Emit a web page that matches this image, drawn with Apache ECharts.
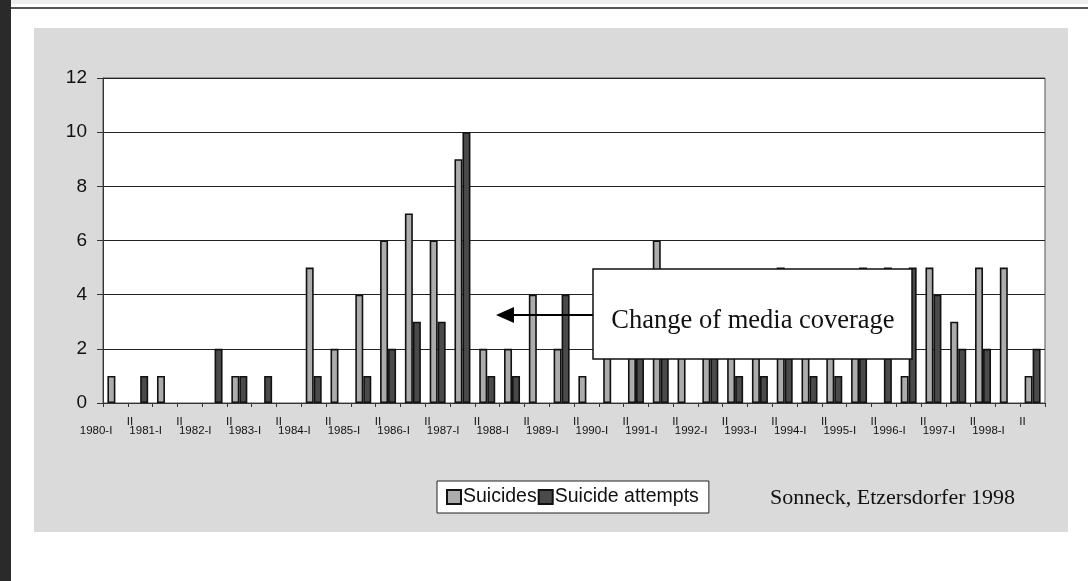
<!DOCTYPE html>
<html>
<head>
<meta charset="utf-8">
<script src="https://cdn.jsdelivr.net/npm/echarts@6/dist/echarts.min.js"></script>
<style>html,body{margin:0;padding:0;background:#fff}#c{width:1088px;height:581px}</style>
</head>
<body>
<div id="c"></div>
<script>
const categories = ['1980-I','1980-II','1981-I','1981-II','1982-I','1982-II','1983-I','1983-II','1984-I','1984-II','1985-I','1985-II','1986-I','1986-II','1987-I','1987-II','1988-I','1988-II','1989-I','1989-II','1990-I','1990-II','1991-I','1991-II','1992-I','1992-II','1993-I','1993-II','1994-I','1994-II','1995-I','1995-II','1996-I','1996-II','1997-I','1997-II','1998-I','1998-II'];
const suicides = [1,0,1,0,0,1,0,0,5,2,4,6,7,6,9,2,2,4,2,1,2,2,6,2,3,3,2,5,4,2,3,0,1,5,3,5,5,1];
const attempts = [0,1,0,0,2,1,1,0,1,0,1,2,3,3,10,1,1,0,4,0,0,2,3,0,2,1,1,3,1,1,5,5,5,4,2,2,0,2];
const yTicks = [0,2,4,6,8,10,12];
const seriesNames = ['Suicides','Suicide attempts'];
const annotationText = 'Change of media coverage';
const sourceText = 'Sonneck, Etzersdorfer 1998';

// zero counts draw no bar
const noZero = arr => arr.map(v => (v === 0 ? null : v));

const chart = echarts.init(document.getElementById('c'));
chart.setOption({
  backgroundColor: '#ffffff',
  animation: false,
  graphic: [
    {type:'rect', z:-100, shape:{x:34,y:28,width:1034,height:504}, style:{fill:'#dadada'}},
    {type:'rect', z:-100, shape:{x:0,y:0,width:11,height:581}, style:{fill:'#2a2a2a'}},
    {type:'rect', z:-100, shape:{x:11,y:0,width:1077,height:4}, style:{fill:'#eeeeee'}},
    {type:'line', z:-100, shape:{x1:11,y1:8,x2:1088,y2:8}, style:{stroke:'#555',lineWidth:2}},
    {type:'line', z:100, shape:{x1:593,y1:315,x2:512,y2:315}, style:{stroke:'#000',lineWidth:2}},
    {type:'polygon', z:100, shape:{points:[[496,315],[514,307],[514,323]]}, style:{fill:'#000'}},
    {type:'rect', z:100, shape:{x:593,y:269,width:319,height:90}, style:{fill:'#fff',stroke:'#111',lineWidth:1.5}},
    {type:'text', z:101, x:753, y:321, style:{text:annotationText, fill:'#111', font:'26.5px "Liberation Serif"', align:'center', verticalAlign:'middle'}},
    {type:'text', z:101, x:770, y:498, style:{text:sourceText, fill:'#111', font:'22px "Liberation Serif"', align:'left', verticalAlign:'middle'}}
  ],
  legend: {
    left: 437, top: 481,
    orient: 'horizontal',
    itemWidth: 14, itemHeight: 14, itemGap: 1,
    icon: 'rect',
    backgroundColor: '#fff',
    borderColor: '#222', borderWidth: 1,
    padding: [6, 10, 6, 9],
    textStyle: {fontFamily:'Liberation Sans', fontSize:19.5, color:'#111', padding:[0,0,0,-3]},
    data: seriesNames
  },
  grid: {left:103, right:43, top:78, bottom:178, show:true, backgroundColor:'#fff', borderColor:'#555', borderWidth:1},
  xAxis: {
    type: 'category',
    data: categories,
    axisLine: {lineStyle:{color:'#333', width:1}},
    axisTick: {show:true, interval:0, length:4, lineStyle:{color:'#333'}},
    axisLabel: {
      interval: 0,
      align: 'right',
      margin: 13,
      fontFamily: 'Liberation Sans',
      color: '#111',
      formatter: function (v) {
        const p = v.split('-');
        if (p[1] === 'II') return '{hi|II}';
        return '{lo|' + v + '}';
      },
      rich: {
        hi: {fontSize: 11.5, fontFamily:'Liberation Sans', color:'#111', padding:[0,7,0,0]},
        lo: {fontSize: 11.5, fontFamily:'Liberation Sans', color:'#111', padding:[9,3,0,0]}
      }
    },
    splitLine: {show:false}
  },
  yAxis: {
    type: 'value',
    min: 0, max: 12, interval: 2,
    axisLine: {show:true, lineStyle:{color:'#333', width:1}},
    axisTick: {show:true, length:6, lineStyle:{color:'#333'}},
    axisLabel: {margin:16, fontFamily:'Liberation Sans', fontSize:19, color:'#111',
      formatter: function (v) { return yTicks.indexOf(v) >= 0 ? String(v) : ''; }},
    splitLine: {show:true, lineStyle:{color:'#222', width:1}}
  },
  series: [
    {name: seriesNames[0], type:'bar', data: noZero(suicides), barWidth: 8, barGap: '0%',
     itemStyle: {color:'#acacac', borderColor:'#111', borderWidth:1.6}},
    {name: seriesNames[1], type:'bar', data: noZero(attempts), barWidth: 8, barGap: '0%',
     itemStyle: {color:'#4a4a4a', borderColor:'#111', borderWidth:1.6}}
  ]
});
</script>
</body>
</html>
